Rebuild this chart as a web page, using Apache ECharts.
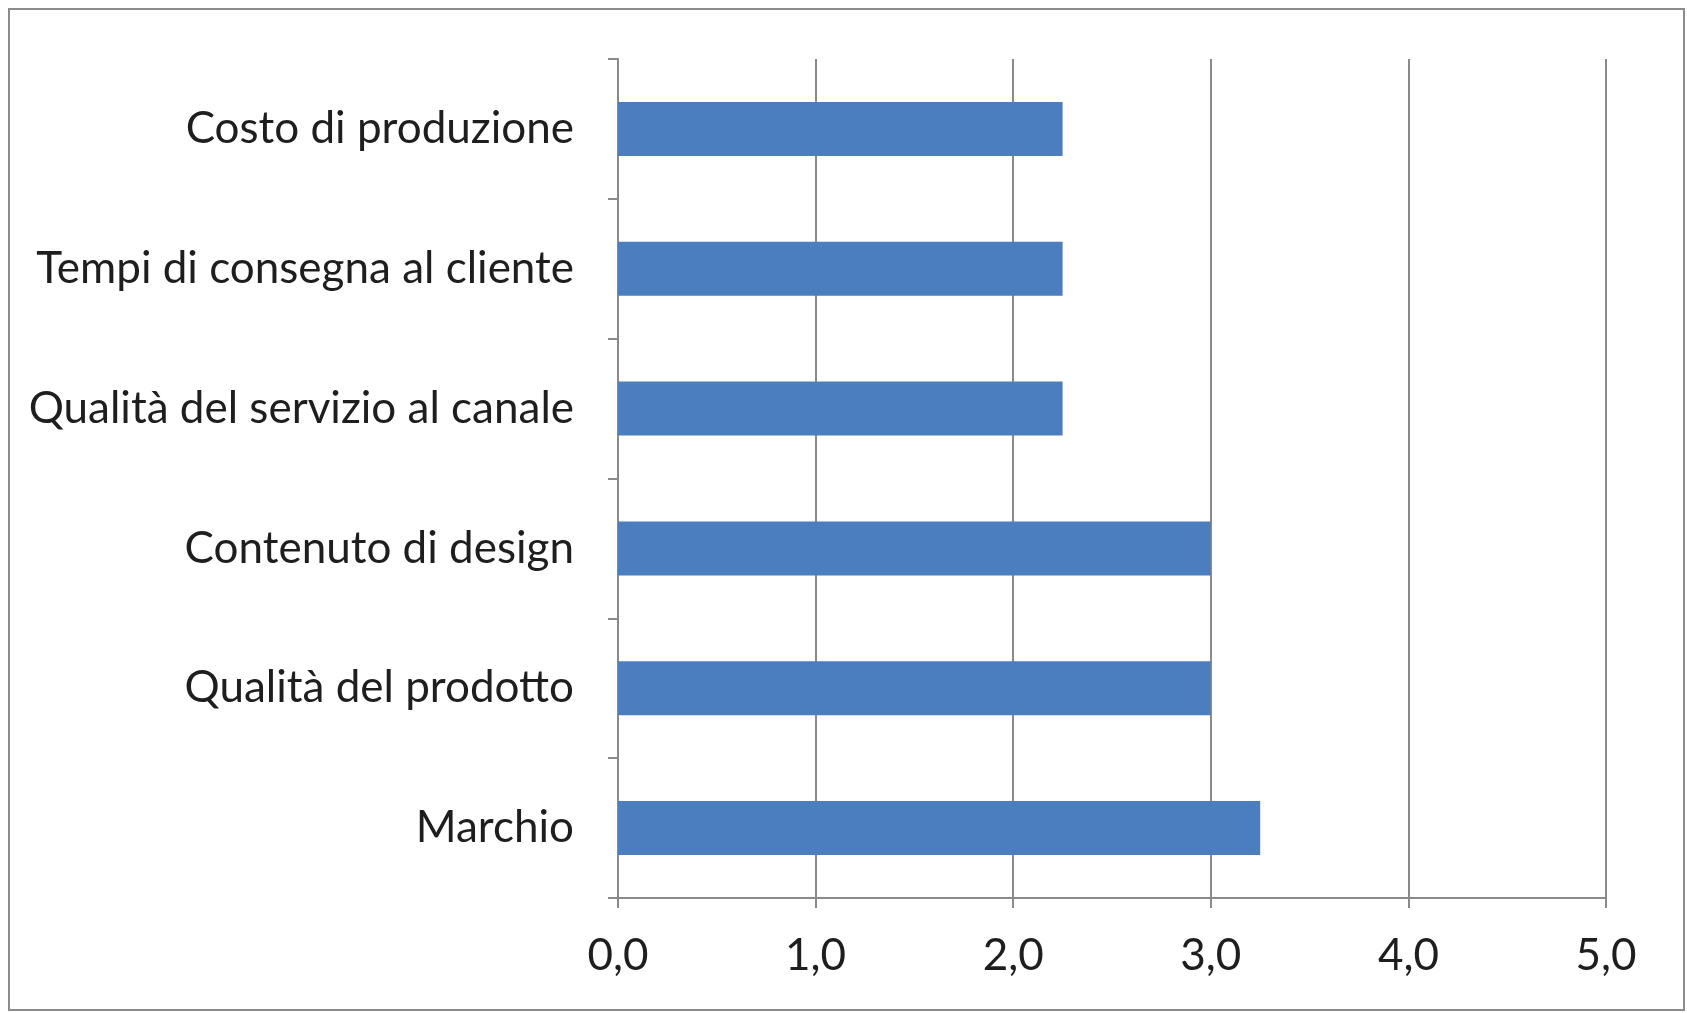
<!DOCTYPE html>
<html>
<head>
<meta charset="utf-8">
<script src="https://cdn.jsdelivr.net/npm/echarts@6/dist/echarts.min.js"></script>
<style>
html,body{margin:0;padding:0;background:#fff;}
#chart{width:1687px;height:1013px;}
</style>
</head>
<body>
<div id="chart"></div>
<script>
const categories = [
  "Costo di produzione",
  "Tempi di consegna al cliente",
  "Qualità del servizio al canale",
  "Contenuto di design",
  "Qualità del prodotto",
  "Marchio"
];
const values = [2.25, 2.25, 2.25, 3.0, 3.0, 3.25];
const xMin = 0, xMax = 5, xStep = 1;

const chart = echarts.init(document.getElementById('chart'));
const fontFam = 'Lato, "Open Sans", sans-serif';
chart.setOption({
  animation: false,
  backgroundColor: '#ffffff',
  graphic: [{
    type: 'rect',
    shape: {x: 9, y: 9, width: 1675, height: 1001},
    style: {fill: 'none', stroke: '#8c8c8c', lineWidth: 2},
    silent: true
  }],
  grid: {left: 618, right: 81, top: 59, bottom: 115, containLabel: false},
  xAxis: {
    type: 'value',
    min: xMin, max: xMax, interval: xStep,
    axisLine: {show: true, lineStyle: {color: '#8a8a8a', width: 2}},
    axisTick: {show: true, length: 10, lineStyle: {color: '#8a8a8a', width: 2}},
    splitLine: {show: true, lineStyle: {color: '#8a8a8a', width: 2}},
    axisLabel: {
      color: '#1e1e1e', fontSize: 44, fontFamily: fontFam, margin: 36,
      formatter: v => v.toFixed(1).replace('.', ',')
    }
  },
  yAxis: {
    type: 'category',
    data: categories,
    inverse: true,
    axisLine: {show: true, lineStyle: {color: '#8a8a8a', width: 2}},
    axisTick: {show: true, length: 10, alignWithLabel: false, lineStyle: {color: '#8a8a8a', width: 2}},
    splitLine: {show: false},
    axisLabel: {color: '#1e1e1e', fontSize: 44, fontFamily: fontFam, margin: 44}
  },
  series: [{
    type: 'bar',
    data: values,
    barWidth: 54,
    itemStyle: {color: '#4a7ebf'}
  }]
});
</script>
</body>
</html>
